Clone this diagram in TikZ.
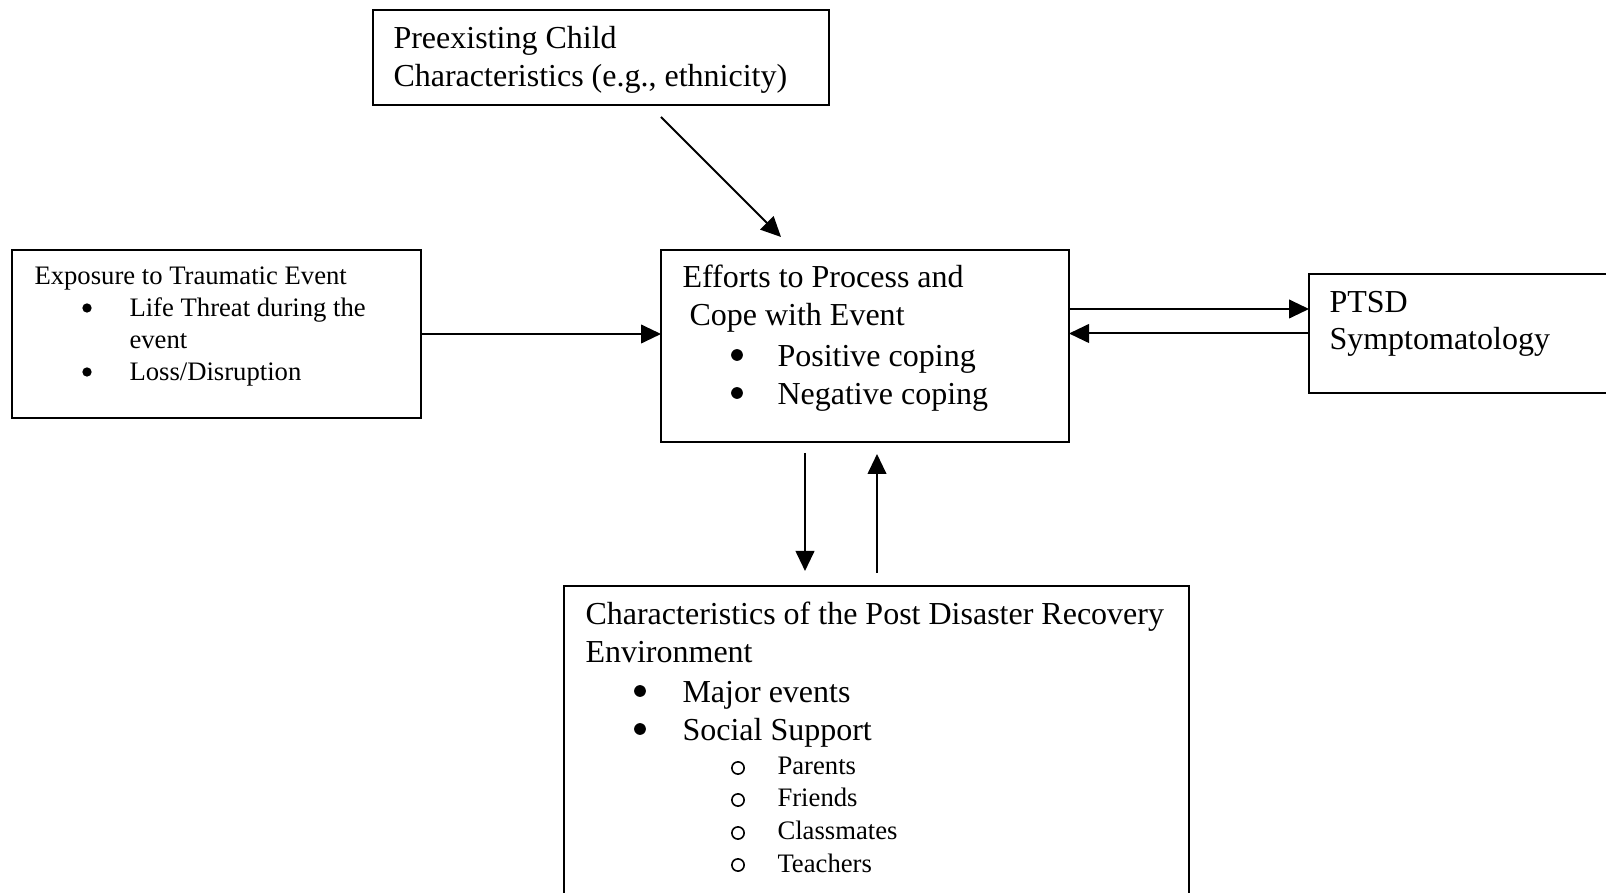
\documentclass[tikz,border=0pt]{standalone}
\usepackage{fontspec}
\setmainfont{Liberation Serif}
\usetikzlibrary{arrows.meta,fit}
\begin{document}
\begin{tikzpicture}[x=0.375pt,y=-0.375pt,
  box/.style={draw,line width=0.9pt,inner sep=0pt,outer sep=0pt,rectangle},
  arr/.style={line width=0.75pt,-{Triangle[length=7.5pt,width=7pt]}},
  big/.style={anchor=base west,inner sep=0pt,font=\fontsize{12pt}{14pt}\selectfont},
  small/.style={anchor=base west,inner sep=0pt,font=\fontsize{10pt}{12pt}\selectfont},
  dotbig/.style={circle,fill,draw=none,inner sep=0pt,minimum size=4.4pt},
  dotsmall/.style={circle,fill,draw=none,inner sep=0pt,minimum size=3.5pt},
  ring/.style={circle,draw,line width=0.6pt,inner sep=0pt,minimum size=4.6pt}]
\useasboundingbox (0,0) rectangle (1606,893);
\clip (0,0) rectangle (1606,893);
% boxes
\node[box,fit={(373,10) (829,105)}] (pre) {};
\node[box,fit={(12,250) (421,418)}] (exp) {};
\node[box,fit={(661,250) (1069,442)}] (eff) {};
\node[box,fit={(1309,274) (1640,393)}] (pt) {};
\node[box,fit={(564,586) (1189,930)}] (env) {};
% texts: preexisting
\node[big] (pre1) at (393,49) {Preexisting Child};
\node[big] (pre2) at (393,87) {Characteristics (e.g., ethnicity)};
% exposure
\node[small] (ex1) at (34,285) {Exposure to Traumatic Event};
\node[dotsmall] (exb1) at (87,308) {};
\node[small] (ex2) at (129,317) {Life Threat during the};
\node[small] (ex3) at (129,349) {event};
\node[dotsmall] (exb2) at (87,372) {};
\node[small] (ex4) at (129,381) {Loss/Disruption};
% efforts
\node[big] (ef1) at (682,288) {Efforts to Process and};
\node[big] (ef2) at (689,326) {Cope with Event};
\node[dotbig] (efb1) at (737,355) {};
\node[big] (ef3) at (777,367) {Positive coping};
\node[dotbig] (efb2) at (737,393) {};
\node[big] (ef4) at (777,405) {Negative coping};
% ptsd
\node[big] (pt1) at (1329,313) {PTSD};
\node[big] (pt2) at (1329,350) {Symptomatology};
% environment
\node[big] (en1) at (585,625) {Characteristics of the Post Disaster Recovery};
\node[big] (en2) at (585,663) {Environment};
\node[dotbig] (enb1) at (640,691) {};
\node[big] (en3) at (682,703) {Major events};
\node[dotbig] (enb2) at (640,729) {};
\node[big] (en4) at (682,741) {Social Support};
\node[ring] (enc1) at (738,768) {};
\node[small] (en5) at (777,775) {Parents};
\node[ring] (enc2) at (738,800) {};
\node[small] (en6) at (777,807) {Friends};
\node[ring] (enc3) at (738,833) {};
\node[small] (en7) at (777,840) {Classmates};
\node[ring] (enc4) at (738,865) {};
\node[small] (en8) at (777,872) {Teachers};
% connector ends
\coordinate (dg1) at (661,117);
\coordinate (dg2) at (781,237);
\coordinate (e1) at (1069,309);
\coordinate (d1) at (805,453);
\coordinate (d2) at (805,571);
\coordinate (u1) at (877,573);
\coordinate (u2) at (877,454);
% connectors
\draw[arr] (dg1) -- (dg2);
\draw[arr] (exp.east) -- (exp.east -| eff.west);
\draw[arr] (e1) -- (e1 -| pt.west);
\draw[arr] (pt.west) -- (pt.west -| eff.east);
\draw[arr] (d1) -- (d2);
\draw[arr] (u1) -- (u2);
\end{tikzpicture}
\end{document}
